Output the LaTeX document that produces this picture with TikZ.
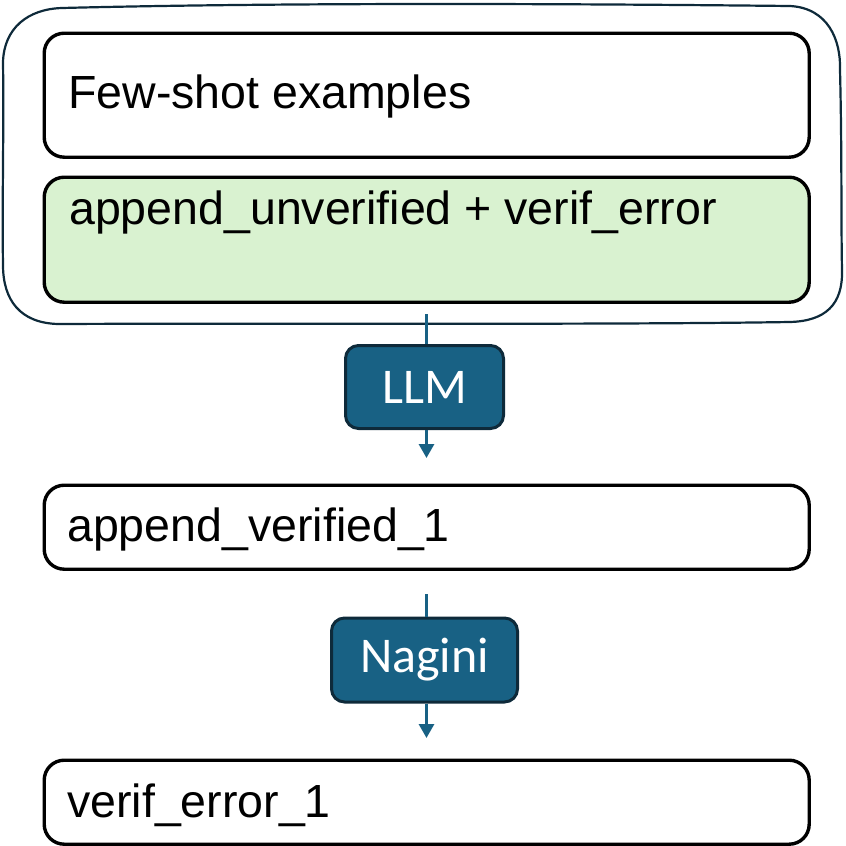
\documentclass[tikz,border=0pt]{standalone}
\usepackage{fontspec}
\setmainfont{Liberation Sans}
\newfontfamily\calib{Carlito}
\usetikzlibrary{arrows.meta}
\definecolor{navy}{HTML}{0E2A3A}
\definecolor{teal}{HTML}{186184}
\definecolor{lgreen}{HTML}{D9F2D0}
\tikzset{
  box/.style={draw=black, line width=3.4pt, rounded corners=20pt, anchor=north west, inner sep=0pt},
  txt/.style={anchor=base west, inner sep=0pt, font=\fontsize{46.5}{54}\selectfont},
  tool/.style={draw=navy, fill=teal, line width=3pt, rounded corners=13pt, inner sep=0pt, text=white, font=\calib\fontsize{50}{58}\selectfont},
  conn/.style={draw=teal, line width=3pt},
  arr/.style={conn, -{Triangle[width=15pt,length=14pt]}}
}
\begin{document}
\begin{tikzpicture}[x=1pt,y=-1pt]
\useasboundingbox (0,0) rectangle (846,846);
% outer hand-drawn border
\draw[navy, line width=2.2pt]
  (62,8) .. controls (300,2) and (600,4) .. (790,6)
  .. controls (828,8) and (841,40) .. (840,70)
  .. controls (842,150) and (841,220) .. (842,270)
  .. controls (843,305) and (825,321) .. (790,322)
  .. controls (600,325) and (300,323) .. (58,324)
  .. controls (20,323) and (3,300) .. (3,265)
  .. controls (2,200) and (4,130) .. (3,62)
  .. controls (4,28) and (28,9) .. (62,8) -- cycle;
% boxes
\node[box, minimum width=765pt, minimum height=124pt] (few) at (42.5,31.5) {};
\node[txt] (fewt) at (68,108) {Few-shot examples};
\node[box, fill=lgreen, minimum width=765pt, minimum height=125pt] (green) at (42.5,175.5) {};
\node[txt] (greent) at (69,224) {append\_unverified + verif\_error};
\node[box, minimum width=765pt, minimum height=84pt] (av) at (42.5,483.5) {};
\node[txt] (avt) at (67,541) {append\_verified\_1};
\node[box, minimum width=765pt, minimum height=84pt] (ve) at (42.5,758.5) {};
\node[txt] (vet) at (67,817) {verif\_error\_1};
% tools
\node[tool, minimum width=158pt, minimum height=83pt] (llm) at (424.5,387) {LLM};
\node[tool, minimum width=186pt, minimum height=84pt] (nag) at (424.5,660) {Nagini};
% connectors
\coordinate (s1) at (426.5,314);
\coordinate (e1) at (426.5,458);
\coordinate (s2) at (426.5,594);
\coordinate (e2) at (426.5,738);
\draw[conn] (s1) -- (llm.north -| s1);
\draw[arr] (llm.south -| e1) -- (e1);
\draw[conn] (s2) -- (nag.north -| s2);
\draw[arr] (nag.south -| e2) -- (e2);
\end{tikzpicture}
\end{document}
